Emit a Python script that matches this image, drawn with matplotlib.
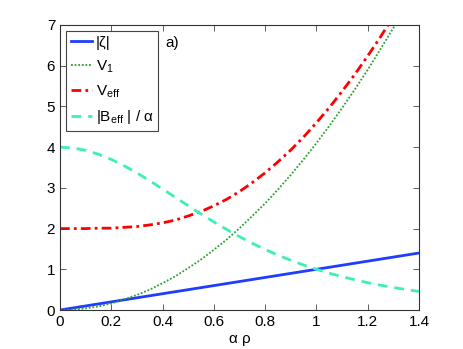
import matplotlib
matplotlib.use('Agg')
import matplotlib.pyplot as plt
import numpy as np

plt.rcParams['font.family'] = ['Liberation Sans', 'DejaVu Sans']
plt.rcParams['mathtext.fontset'] = 'custom'
plt.rcParams['mathtext.rm'] = 'Liberation Sans'

# alpha*rho grid
alpha_rho = [0.0, 0.05, 0.1, 0.15, 0.2, 0.25, 0.3, 0.35, 0.4, 0.45, 0.5, 0.55, 0.6, 0.65,
             0.7, 0.75, 0.8, 0.85, 0.9, 0.95, 1.0, 1.05, 1.1, 1.15, 1.2, 1.25, 1.3, 1.35, 1.4]

# |zeta|
zeta = [0.0, 0.05, 0.1, 0.15, 0.2, 0.25, 0.3, 0.35, 0.4, 0.45, 0.5, 0.55, 0.6, 0.65,
        0.7, 0.75, 0.8, 0.85, 0.9, 0.95, 1.0, 1.05, 1.1, 1.15, 1.2, 1.25, 1.3, 1.35, 1.4]

# V_1
v1 = [0.0, 0.01, 0.04, 0.09, 0.16, 0.26, 0.37, 0.50, 0.66, 0.83, 1.03, 1.24, 1.48, 1.73,
      2.01, 2.31, 2.62, 2.96, 3.32, 3.70, 4.10, 4.52, 4.96, 5.42, 5.90, 6.41, 6.93, 7.47, 8.04]

# V_eff
v_eff = [2.00, 2.00, 2.00, 2.01, 2.01, 2.03, 2.05, 2.09, 2.14, 2.21, 2.31, 2.42, 2.56, 2.72,
         2.91, 3.13, 3.37, 3.64, 3.93, 4.25, 4.60, 4.97, 5.37, 5.79, 6.24, 6.71, 7.21, 7.72, 8.27]

# |B_eff| / alpha
b_eff = [4.000, 3.980, 3.921, 3.826, 3.698, 3.543, 3.367, 3.175, 2.973, 2.766, 2.560, 2.358,
         2.163, 1.977, 1.802, 1.638, 1.487, 1.348, 1.221, 1.105, 1.000, 0.905, 0.819, 0.742,
         0.672, 0.609, 0.553, 0.502, 0.457]

xticks = [0, 0.2, 0.4, 0.6, 0.8, 1.0, 1.2, 1.4]
xticklabels = ['0', '0.2', '0.4', '0.6', '0.8', '1', '1.2', '1.4']
yticks = [0, 1, 2, 3, 4, 5, 6, 7]

fig = plt.figure(figsize=(4.63, 3.49), dpi=100)
ax = fig.add_axes([0.1296, 0.1117, 0.7754, 0.8167])

ax.plot(alpha_rho, zeta, color='#1f3cff', lw=2.0, label='|ζ|')
ax.plot(alpha_rho, v1, color='#2ca02c', lw=1.3, linestyle=(0, (1, 1.0)), label='V$_1$')
ax.plot(alpha_rho, v_eff, color='#ff0000', lw=2.0, linestyle=(0, (3.5, 1.5, 1, 1.5)),
        label='V$_{\\rm eff}$')
ax.plot(alpha_rho, b_eff, color='#3cf0b4', lw=2.0, linestyle=(0, (3.5, 2.5)),
        label='|B$_{\\rm eff}$ | / α')

ax.set_xlim(0, 1.4)
ax.set_ylim(0, 7)
ax.set_xticks(xticks)
ax.set_xticklabels(xticklabels)
ax.set_yticks(yticks)
ax.tick_params(direction='in', top=True, right=True, labelsize=11, length=4, width=0.6,
               color='#444444')
for s in ax.spines.values():
    s.set_color('#333333')
    s.set_linewidth(0.8)

ax.set_xlabel('α ρ', fontsize=11, labelpad=2)
ax.text(0.41, 6.55, 'a)', fontsize=11, ha='left', va='center')

leg = ax.legend(loc='upper left', fontsize=11, handlelength=1.4, handletextpad=0.25,
                borderpad=0.3, labelspacing=0.55, borderaxespad=0.4, fancybox=False,
                framealpha=1)
leg.get_frame().set_edgecolor('#444444')
leg.get_frame().set_linewidth(0.8)

plt.savefig('out.png', dpi=100)
